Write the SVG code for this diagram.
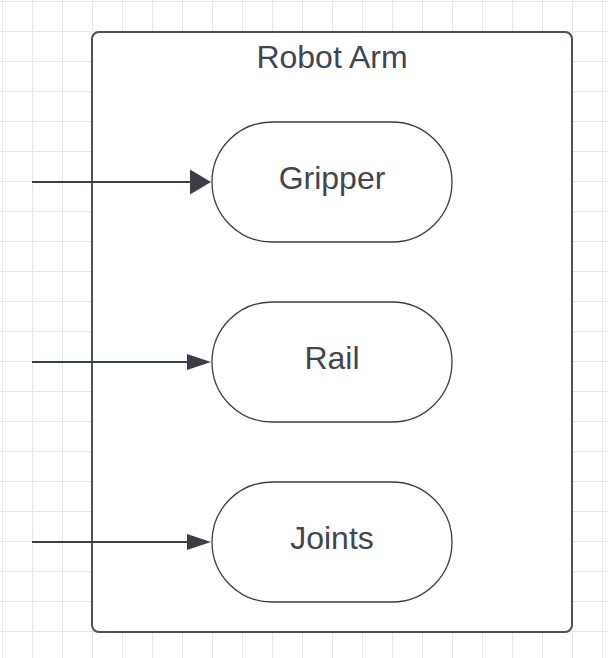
<svg xmlns="http://www.w3.org/2000/svg" width="608" height="658" viewBox="0 0 608 658">
<defs>
<pattern id="grid" x="2" y="1" width="30" height="30" patternUnits="userSpaceOnUse">
<path d="M0.5 0 V30 M0 0.5 H30" fill="none" stroke="#e6e6e6" stroke-width="1"/>
</pattern>
</defs>
<style>
.txt{font-family:"Liberation Sans",Arial,sans-serif;font-size:32px;fill:#41464e;text-anchor:middle}
.node{fill:#ffffff;stroke:#3a3d42;stroke-width:1.3}
.conn{stroke:#3a3f45;stroke-width:2;fill:none}
.head{fill:#3a3f45;stroke:none}
</style>
<rect x="0" y="0" width="608" height="658" fill="#ffffff"/>
<rect x="0" y="0" width="608" height="658" fill="url(#grid)"/>
<g id="container">
<rect x="92" y="32" width="480" height="600" rx="7" fill="#ffffff" stroke="#4d5055" stroke-width="2"/>
<text class="txt" x="332" y="68">Robot Arm</text>
</g>
<g id="gripper">
<rect class="node" x="212" y="122" width="240" height="120" rx="60"/>
<text class="txt" x="332" y="189">Gripper</text>
</g>
<g id="rail">
<rect class="node" x="212" y="302" width="240" height="120" rx="60"/>
<text class="txt" x="332" y="369">Rail</text>
</g>
<g id="joints">
<rect class="node" x="212" y="482" width="240" height="120" rx="60"/>
<text class="txt" x="332" y="549">Joints</text>
</g>
<g id="connectors">
<line class="conn" x1="32" y1="182" x2="192" y2="182"/>
<polygon class="head" points="190,169.5 211,182 190,194.5"/>
<line class="conn" x1="32" y1="362" x2="190" y2="362"/>
<polygon class="head" points="187,354 211,362 187,370"/>
<line class="conn" x1="32" y1="542" x2="190" y2="542"/>
<polygon class="head" points="187,534 211,542 187,550"/>
</g>
</svg>
